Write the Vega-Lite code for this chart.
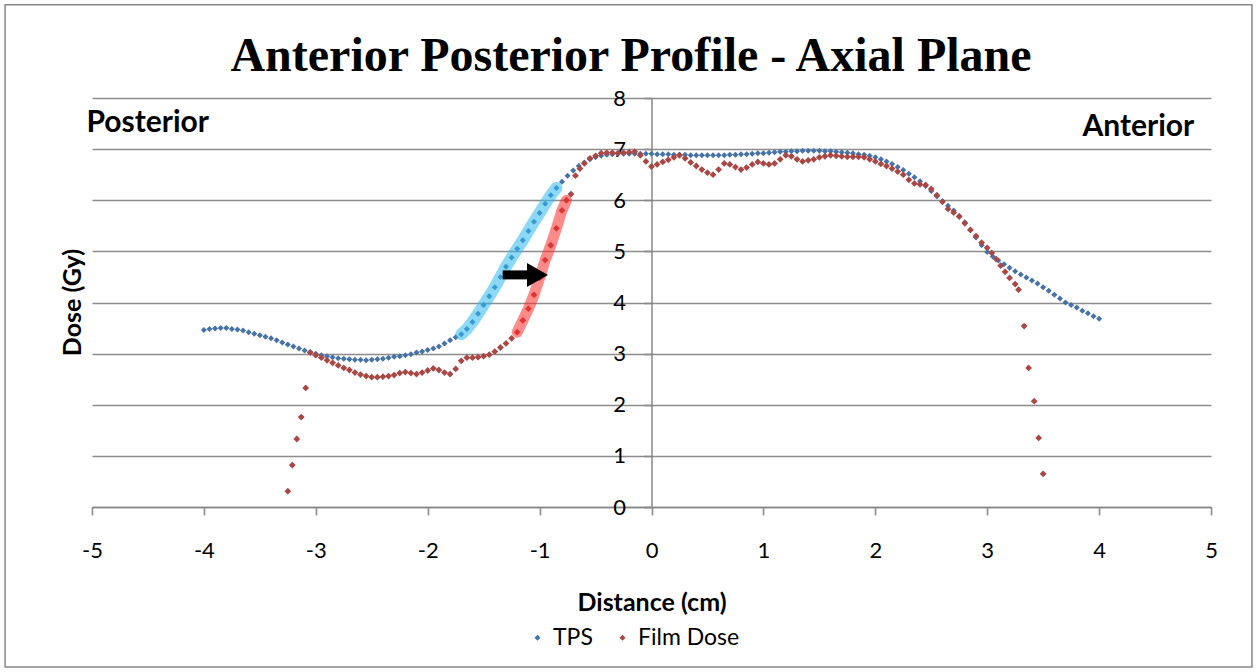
{
  "$schema": "https://vega.github.io/schema/vega-lite/v6.json",
  "width": 1119,
  "height": 409,
  "autosize": "none",
  "padding": {"left": 92, "top": 98, "right": 47, "bottom": 165},
  "background": "#ffffff",
  "config": {"view": {"stroke": null}, "font": "Lato"},
  "datasets": {
    "profile": [
      {"series":"TPS","distance":-4.0,"dose":3.46},{"series":"TPS","distance":-3.95,"dose":3.48},{"series":"TPS","distance":-3.9,"dose":3.49},{"series":"TPS","distance":-3.85,"dose":3.5},{"series":"TPS","distance":-3.8,"dose":3.5},{"series":"TPS","distance":-3.75,"dose":3.48},{"series":"TPS","distance":-3.7,"dose":3.47},{"series":"TPS","distance":-3.65,"dose":3.45},{"series":"TPS","distance":-3.6,"dose":3.42},{"series":"TPS","distance":-3.55,"dose":3.39},{"series":"TPS","distance":-3.5,"dose":3.36},{"series":"TPS","distance":-3.45,"dose":3.33},{"series":"TPS","distance":-3.4,"dose":3.3},{"series":"TPS","distance":-3.35,"dose":3.26},{"series":"TPS","distance":-3.3,"dose":3.22},{"series":"TPS","distance":-3.25,"dose":3.18},{"series":"TPS","distance":-3.2,"dose":3.14},{"series":"TPS","distance":-3.15,"dose":3.1},{"series":"TPS","distance":-3.1,"dose":3.06},{"series":"TPS","distance":-3.05,"dose":3.03},{"series":"TPS","distance":-3.0,"dose":3.0},{"series":"TPS","distance":-2.95,"dose":2.97},{"series":"TPS","distance":-2.9,"dose":2.95},{"series":"TPS","distance":-2.85,"dose":2.93},{"series":"TPS","distance":-2.8,"dose":2.91},{"series":"TPS","distance":-2.75,"dose":2.9},{"series":"TPS","distance":-2.7,"dose":2.89},{"series":"TPS","distance":-2.65,"dose":2.88},{"series":"TPS","distance":-2.6,"dose":2.88},{"series":"TPS","distance":-2.55,"dose":2.87},{"series":"TPS","distance":-2.5,"dose":2.88},{"series":"TPS","distance":-2.45,"dose":2.89},{"series":"TPS","distance":-2.4,"dose":2.9},{"series":"TPS","distance":-2.35,"dose":2.92},{"series":"TPS","distance":-2.3,"dose":2.94},{"series":"TPS","distance":-2.25,"dose":2.95},{"series":"TPS","distance":-2.2,"dose":2.97},{"series":"TPS","distance":-2.15,"dose":2.99},{"series":"TPS","distance":-2.1,"dose":3.02},{"series":"TPS","distance":-2.05,"dose":3.04},{"series":"TPS","distance":-2.0,"dose":3.07},{"series":"TPS","distance":-1.95,"dose":3.1},{"series":"TPS","distance":-1.9,"dose":3.14},{"series":"TPS","distance":-1.85,"dose":3.2},{"series":"TPS","distance":-1.8,"dose":3.26},{"series":"TPS","distance":-1.75,"dose":3.32},{"series":"TPS","distance":-1.7,"dose":3.38},{"series":"TPS","distance":-1.65,"dose":3.48},{"series":"TPS","distance":-1.6,"dose":3.62},{"series":"TPS","distance":-1.55,"dose":3.78},{"series":"TPS","distance":-1.5,"dose":3.95},{"series":"TPS","distance":-1.45,"dose":4.12},{"series":"TPS","distance":-1.4,"dose":4.3},{"series":"TPS","distance":-1.35,"dose":4.5},{"series":"TPS","distance":-1.3,"dose":4.7},{"series":"TPS","distance":-1.25,"dose":4.88},{"series":"TPS","distance":-1.2,"dose":5.05},{"series":"TPS","distance":-1.15,"dose":5.22},{"series":"TPS","distance":-1.1,"dose":5.4},{"series":"TPS","distance":-1.05,"dose":5.58},{"series":"TPS","distance":-1.0,"dose":5.75},{"series":"TPS","distance":-0.95,"dose":5.93},{"series":"TPS","distance":-0.9,"dose":6.1},{"series":"TPS","distance":-0.85,"dose":6.24},{"series":"TPS","distance":-0.8,"dose":6.36},{"series":"TPS","distance":-0.75,"dose":6.48},{"series":"TPS","distance":-0.7,"dose":6.58},{"series":"TPS","distance":-0.65,"dose":6.67},{"series":"TPS","distance":-0.6,"dose":6.74},{"series":"TPS","distance":-0.55,"dose":6.8},{"series":"TPS","distance":-0.5,"dose":6.84},{"series":"TPS","distance":-0.45,"dose":6.87},{"series":"TPS","distance":-0.4,"dose":6.89},{"series":"TPS","distance":-0.35,"dose":6.9},{"series":"TPS","distance":-0.3,"dose":6.91},{"series":"TPS","distance":-0.25,"dose":6.91},{"series":"TPS","distance":-0.2,"dose":6.91},{"series":"TPS","distance":-0.15,"dose":6.91},{"series":"TPS","distance":-0.1,"dose":6.91},{"series":"TPS","distance":-0.05,"dose":6.91},{"series":"TPS","distance":0.0,"dose":6.91},{"series":"TPS","distance":0.05,"dose":6.9},{"series":"TPS","distance":0.1,"dose":6.9},{"series":"TPS","distance":0.15,"dose":6.9},{"series":"TPS","distance":0.2,"dose":6.89},{"series":"TPS","distance":0.25,"dose":6.89},{"series":"TPS","distance":0.3,"dose":6.89},{"series":"TPS","distance":0.35,"dose":6.88},{"series":"TPS","distance":0.4,"dose":6.88},{"series":"TPS","distance":0.45,"dose":6.88},{"series":"TPS","distance":0.5,"dose":6.88},{"series":"TPS","distance":0.55,"dose":6.88},{"series":"TPS","distance":0.6,"dose":6.88},{"series":"TPS","distance":0.65,"dose":6.88},{"series":"TPS","distance":0.7,"dose":6.89},{"series":"TPS","distance":0.75,"dose":6.89},{"series":"TPS","distance":0.8,"dose":6.9},{"series":"TPS","distance":0.85,"dose":6.9},{"series":"TPS","distance":0.9,"dose":6.91},{"series":"TPS","distance":0.95,"dose":6.92},{"series":"TPS","distance":1.0,"dose":6.92},{"series":"TPS","distance":1.05,"dose":6.93},{"series":"TPS","distance":1.1,"dose":6.94},{"series":"TPS","distance":1.15,"dose":6.95},{"series":"TPS","distance":1.2,"dose":6.95},{"series":"TPS","distance":1.25,"dose":6.96},{"series":"TPS","distance":1.3,"dose":6.96},{"series":"TPS","distance":1.35,"dose":6.97},{"series":"TPS","distance":1.4,"dose":6.97},{"series":"TPS","distance":1.45,"dose":6.97},{"series":"TPS","distance":1.5,"dose":6.97},{"series":"TPS","distance":1.55,"dose":6.96},{"series":"TPS","distance":1.6,"dose":6.96},{"series":"TPS","distance":1.65,"dose":6.95},{"series":"TPS","distance":1.7,"dose":6.94},{"series":"TPS","distance":1.75,"dose":6.93},{"series":"TPS","distance":1.8,"dose":6.92},{"series":"TPS","distance":1.85,"dose":6.9},{"series":"TPS","distance":1.9,"dose":6.89},{"series":"TPS","distance":1.95,"dose":6.87},{"series":"TPS","distance":2.0,"dose":6.84},{"series":"TPS","distance":2.05,"dose":6.8},{"series":"TPS","distance":2.1,"dose":6.76},{"series":"TPS","distance":2.15,"dose":6.71},{"series":"TPS","distance":2.2,"dose":6.65},{"series":"TPS","distance":2.25,"dose":6.59},{"series":"TPS","distance":2.3,"dose":6.52},{"series":"TPS","distance":2.35,"dose":6.45},{"series":"TPS","distance":2.4,"dose":6.37},{"series":"TPS","distance":2.45,"dose":6.28},{"series":"TPS","distance":2.5,"dose":6.18},{"series":"TPS","distance":2.55,"dose":6.08},{"series":"TPS","distance":2.6,"dose":5.98},{"series":"TPS","distance":2.65,"dose":5.89},{"series":"TPS","distance":2.7,"dose":5.8},{"series":"TPS","distance":2.75,"dose":5.69},{"series":"TPS","distance":2.8,"dose":5.57},{"series":"TPS","distance":2.85,"dose":5.42},{"series":"TPS","distance":2.9,"dose":5.27},{"series":"TPS","distance":2.95,"dose":5.12},{"series":"TPS","distance":3.0,"dose":4.99},{"series":"TPS","distance":3.05,"dose":4.9},{"series":"TPS","distance":3.1,"dose":4.82},{"series":"TPS","distance":3.15,"dose":4.75},{"series":"TPS","distance":3.2,"dose":4.68},{"series":"TPS","distance":3.25,"dose":4.61},{"series":"TPS","distance":3.3,"dose":4.55},{"series":"TPS","distance":3.35,"dose":4.49},{"series":"TPS","distance":3.4,"dose":4.43},{"series":"TPS","distance":3.45,"dose":4.37},{"series":"TPS","distance":3.5,"dose":4.3},{"series":"TPS","distance":3.55,"dose":4.23},{"series":"TPS","distance":3.6,"dose":4.15},{"series":"TPS","distance":3.65,"dose":4.08},{"series":"TPS","distance":3.7,"dose":4.0},{"series":"TPS","distance":3.75,"dose":3.95},{"series":"TPS","distance":3.8,"dose":3.9},{"series":"TPS","distance":3.85,"dose":3.84},{"series":"TPS","distance":3.9,"dose":3.79},{"series":"TPS","distance":3.95,"dose":3.73},{"series":"TPS","distance":4.0,"dose":3.68},
      {"series":"Film Dose","distance":-3.25,"dose":0.31},{"series":"Film Dose","distance":-3.21,"dose":0.82},{"series":"Film Dose","distance":-3.17,"dose":1.33},{"series":"Film Dose","distance":-3.13,"dose":1.76},{"series":"Film Dose","distance":-3.09,"dose":2.33},{"series":"Film Dose","distance":-3.05,"dose":3.02},{"series":"Film Dose","distance":-3.0,"dose":2.97},{"series":"Film Dose","distance":-2.95,"dose":2.92},{"series":"Film Dose","distance":-2.9,"dose":2.87},{"series":"Film Dose","distance":-2.85,"dose":2.82},{"series":"Film Dose","distance":-2.8,"dose":2.77},{"series":"Film Dose","distance":-2.75,"dose":2.72},{"series":"Film Dose","distance":-2.7,"dose":2.68},{"series":"Film Dose","distance":-2.65,"dose":2.63},{"series":"Film Dose","distance":-2.6,"dose":2.59},{"series":"Film Dose","distance":-2.55,"dose":2.56},{"series":"Film Dose","distance":-2.5,"dose":2.54},{"series":"Film Dose","distance":-2.45,"dose":2.54},{"series":"Film Dose","distance":-2.4,"dose":2.55},{"series":"Film Dose","distance":-2.35,"dose":2.56},{"series":"Film Dose","distance":-2.3,"dose":2.58},{"series":"Film Dose","distance":-2.25,"dose":2.62},{"series":"Film Dose","distance":-2.2,"dose":2.64},{"series":"Film Dose","distance":-2.15,"dose":2.62},{"series":"Film Dose","distance":-2.1,"dose":2.6},{"series":"Film Dose","distance":-2.05,"dose":2.63},{"series":"Film Dose","distance":-2.0,"dose":2.67},{"series":"Film Dose","distance":-1.95,"dose":2.71},{"series":"Film Dose","distance":-1.9,"dose":2.68},{"series":"Film Dose","distance":-1.85,"dose":2.63},{"series":"Film Dose","distance":-1.8,"dose":2.6},{"series":"Film Dose","distance":-1.75,"dose":2.7},{"series":"Film Dose","distance":-1.7,"dose":2.86},{"series":"Film Dose","distance":-1.65,"dose":2.92},{"series":"Film Dose","distance":-1.6,"dose":2.92},{"series":"Film Dose","distance":-1.55,"dose":2.93},{"series":"Film Dose","distance":-1.5,"dose":2.95},{"series":"Film Dose","distance":-1.45,"dose":2.98},{"series":"Film Dose","distance":-1.4,"dose":3.04},{"series":"Film Dose","distance":-1.35,"dose":3.12},{"series":"Film Dose","distance":-1.3,"dose":3.2},{"series":"Film Dose","distance":-1.25,"dose":3.3},{"series":"Film Dose","distance":-1.2,"dose":3.42},{"series":"Film Dose","distance":-1.15,"dose":3.65},{"series":"Film Dose","distance":-1.1,"dose":3.88},{"series":"Film Dose","distance":-1.05,"dose":4.15},{"series":"Film Dose","distance":-1.0,"dose":4.48},{"series":"Film Dose","distance":-0.95,"dose":4.83},{"series":"Film Dose","distance":-0.9,"dose":5.12},{"series":"Film Dose","distance":-0.85,"dose":5.45},{"series":"Film Dose","distance":-0.8,"dose":5.8},{"series":"Film Dose","distance":-0.76,"dose":6.0},{"series":"Film Dose","distance":-0.72,"dose":6.12},{"series":"Film Dose","distance":-0.68,"dose":6.48},{"series":"Film Dose","distance":-0.64,"dose":6.62},{"series":"Film Dose","distance":-0.6,"dose":6.72},{"series":"Film Dose","distance":-0.55,"dose":6.82},{"series":"Film Dose","distance":-0.5,"dose":6.87},{"series":"Film Dose","distance":-0.45,"dose":6.92},{"series":"Film Dose","distance":-0.4,"dose":6.93},{"series":"Film Dose","distance":-0.35,"dose":6.93},{"series":"Film Dose","distance":-0.3,"dose":6.92},{"series":"Film Dose","distance":-0.25,"dose":6.93},{"series":"Film Dose","distance":-0.2,"dose":6.94},{"series":"Film Dose","distance":-0.15,"dose":6.95},{"series":"Film Dose","distance":-0.1,"dose":6.88},{"series":"Film Dose","distance":-0.05,"dose":6.76},{"series":"Film Dose","distance":0.0,"dose":6.66},{"series":"Film Dose","distance":0.05,"dose":6.7},{"series":"Film Dose","distance":0.1,"dose":6.75},{"series":"Film Dose","distance":0.15,"dose":6.79},{"series":"Film Dose","distance":0.2,"dose":6.84},{"series":"Film Dose","distance":0.25,"dose":6.88},{"series":"Film Dose","distance":0.3,"dose":6.82},{"series":"Film Dose","distance":0.35,"dose":6.74},{"series":"Film Dose","distance":0.4,"dose":6.67},{"series":"Film Dose","distance":0.45,"dose":6.6},{"series":"Film Dose","distance":0.5,"dose":6.54},{"series":"Film Dose","distance":0.55,"dose":6.5},{"series":"Film Dose","distance":0.6,"dose":6.6},{"series":"Film Dose","distance":0.65,"dose":6.72},{"series":"Film Dose","distance":0.7,"dose":6.7},{"series":"Film Dose","distance":0.75,"dose":6.65},{"series":"Film Dose","distance":0.8,"dose":6.6},{"series":"Film Dose","distance":0.85,"dose":6.64},{"series":"Film Dose","distance":0.9,"dose":6.7},{"series":"Film Dose","distance":0.95,"dose":6.75},{"series":"Film Dose","distance":1.0,"dose":6.72},{"series":"Film Dose","distance":1.05,"dose":6.7},{"series":"Film Dose","distance":1.1,"dose":6.72},{"series":"Film Dose","distance":1.15,"dose":6.8},{"series":"Film Dose","distance":1.2,"dose":6.88},{"series":"Film Dose","distance":1.25,"dose":6.86},{"series":"Film Dose","distance":1.3,"dose":6.8},{"series":"Film Dose","distance":1.35,"dose":6.76},{"series":"Film Dose","distance":1.4,"dose":6.78},{"series":"Film Dose","distance":1.45,"dose":6.8},{"series":"Film Dose","distance":1.5,"dose":6.84},{"series":"Film Dose","distance":1.55,"dose":6.86},{"series":"Film Dose","distance":1.6,"dose":6.88},{"series":"Film Dose","distance":1.65,"dose":6.87},{"series":"Film Dose","distance":1.7,"dose":6.86},{"series":"Film Dose","distance":1.75,"dose":6.85},{"series":"Film Dose","distance":1.8,"dose":6.85},{"series":"Film Dose","distance":1.85,"dose":6.85},{"series":"Film Dose","distance":1.9,"dose":6.84},{"series":"Film Dose","distance":1.95,"dose":6.8},{"series":"Film Dose","distance":2.0,"dose":6.76},{"series":"Film Dose","distance":2.05,"dose":6.71},{"series":"Film Dose","distance":2.1,"dose":6.67},{"series":"Film Dose","distance":2.15,"dose":6.62},{"series":"Film Dose","distance":2.2,"dose":6.56},{"series":"Film Dose","distance":2.25,"dose":6.5},{"series":"Film Dose","distance":2.3,"dose":6.4},{"series":"Film Dose","distance":2.35,"dose":6.33},{"series":"Film Dose","distance":2.4,"dose":6.31},{"series":"Film Dose","distance":2.45,"dose":6.3},{"series":"Film Dose","distance":2.5,"dose":6.22},{"series":"Film Dose","distance":2.55,"dose":6.1},{"series":"Film Dose","distance":2.6,"dose":5.97},{"series":"Film Dose","distance":2.65,"dose":5.83},{"series":"Film Dose","distance":2.7,"dose":5.76},{"series":"Film Dose","distance":2.75,"dose":5.68},{"series":"Film Dose","distance":2.8,"dose":5.55},{"series":"Film Dose","distance":2.85,"dose":5.42},{"series":"Film Dose","distance":2.9,"dose":5.3},{"series":"Film Dose","distance":2.95,"dose":5.17},{"series":"Film Dose","distance":3.0,"dose":5.07},{"series":"Film Dose","distance":3.04,"dose":4.97},{"series":"Film Dose","distance":3.08,"dose":4.85},{"series":"Film Dose","distance":3.12,"dose":4.72},{"series":"Film Dose","distance":3.16,"dose":4.6},{"series":"Film Dose","distance":3.2,"dose":4.48},{"series":"Film Dose","distance":3.25,"dose":4.36},{"series":"Film Dose","distance":3.28,"dose":4.25},{"series":"Film Dose","distance":3.33,"dose":3.54},{"series":"Film Dose","distance":3.37,"dose":2.72},{"series":"Film Dose","distance":3.42,"dose":2.07},{"series":"Film Dose","distance":3.46,"dose":1.35},{"series":"Film Dose","distance":3.5,"dose":0.65}
    ]
  },
  "layer": [
    {
      "data": {"values": [{}]},
      "mark": {"type": "rect", "filled": false, "stroke": "#868686", "strokeWidth": 1.5},
      "encoding": {
        "x": {"datum": -5.777, "type": "quantitative", "scale": {"domain": [-5, 5], "nice": false}},
        "x2": {"datum": 5.366},
        "y": {"datum": 9.824, "type": "quantitative", "scale": {"domain": [0, 8], "nice": false}},
        "y2": {"datum": -3.131}
      }
    },
    {
      "data": {"name": "profile"},
      "mark": {"type": "point", "shape": "diamond", "filled": true, "opacity": 1, "strokeWidth": 0},
      "encoding": {
        "x": {"field": "distance", "type": "quantitative", "scale": {"domain": [-5, 5], "nice": false},
          "axis": {"title": "Distance (cm)", "values": [-5,-4,-3,-2,-1,0,1,2,3,4,5], "labelExpr": "'' + datum.value", "grid": false, "domainColor": "#868686", "domainWidth": 1.5, "tickColor": "#868686", "tickSize": 8, "tickWidth": 1.5, "labelFont": "Lato", "labelFontSize": 22, "labelColor": "#000000", "labelBaseline": "middle", "labelPadding": 35, "labelFlush": false, "labelOverlap": false, "titleFont": "Lato", "titleFontSize": 25, "titleFontWeight": "bold", "titleColor": "#000000", "titleY": 95, "titleBaseline": "middle"}},
        "y": {"field": "dose", "type": "quantitative", "scale": {"domain": [0, 8], "nice": false},
          "axis": {"title": "Dose (Gy)", "values": [0,1,2,3,4,5,6,7,8], "labelExpr": "'' + datum.value", "offset": -559.5, "grid": true, "gridColor": "#8c8c8c", "gridWidth": 1.5, "domainColor": "#868686", "domainWidth": 1.5, "tickColor": "#868686", "tickSize": 8, "tickWidth": 1.5, "labelFont": "Lato", "labelFontSize": 22, "labelColor": "#000000", "labelPadding": 18, "labelFlush": false, "labelOverlap": false, "titleFont": "Lato", "titleFontSize": 25, "titleFontWeight": "bold", "titleColor": "#000000", "titleX": -579.5, "titleY": 204, "titleAngle": -90, "titleAlign": "center", "titleBaseline": "middle"}},
        "color": {"field": "series", "type": "nominal", "scale": {"domain": ["TPS", "Film Dose"], "range": ["#4572A7", "#AA4643"]},
          "legend": {"orient": "none", "legendX": 434, "legendY": 528, "direction": "horizontal", "title": null, "symbolType": "diamond", "symbolSize": 36, "symbolStrokeWidth": 0, "labelFont": "Lato", "labelFontSize": 23, "labelColor": "#000000", "columnPadding": 18, "labelOffset": 4, "padding": 0}},
        "size": {"condition": {"test": "datum.series === 'TPS'", "value": 36}, "value": 46}
      }
    },
    {
      "data": {"name": "profile"},
      "transform": [{"filter": "datum.series === 'TPS' && datum.distance >= -1.7 && datum.distance <= -0.85"}],
      "mark": {"type": "line", "stroke": "#2eb8f0", "strokeWidth": 12, "strokeCap": "round", "strokeJoin": "round", "opacity": 0.55},
      "encoding": {
        "x": {"field": "distance", "type": "quantitative", "scale": {"domain": [-5, 5], "nice": false}},
        "y": {"field": "dose", "type": "quantitative", "scale": {"domain": [0, 8], "nice": false}}
      }
    },
    {
      "data": {"name": "profile"},
      "transform": [{"filter": "datum.series === 'Film Dose' && datum.distance >= -1.22 && datum.distance <= -0.76"}],
      "mark": {"type": "line", "stroke": "#ff2a2a", "strokeWidth": 11, "strokeCap": "round", "strokeJoin": "round", "opacity": 0.55},
      "encoding": {
        "x": {"field": "distance", "type": "quantitative", "scale": {"domain": [-5, 5], "nice": false}},
        "y": {"field": "dose", "type": "quantitative", "scale": {"domain": [0, 8], "nice": false}}
      }
    },
    {
      "data": {"values": [{}]},
      "mark": {"type": "rule", "color": "#000000", "strokeWidth": 9, "strokeCap": "butt"},
      "encoding": {
        "x": {"datum": -1.33, "type": "quantitative", "scale": {"domain": [-5, 5], "nice": false}},
        "x2": {"datum": -1.06},
        "y": {"datum": 4.54, "type": "quantitative", "scale": {"domain": [0, 8], "nice": false}}
      }
    },
    {
      "data": {"values": [{}]},
      "mark": {"type": "point", "shape": "M-0.875,-1L0.875,0L-0.875,1Z", "filled": true, "color": "#000000", "opacity": 1, "size": 576, "strokeWidth": 0},
      "encoding": {
        "x": {"datum": -1.019, "type": "quantitative", "scale": {"domain": [-5, 5], "nice": false}},
        "y": {"datum": 4.54, "type": "quantitative", "scale": {"domain": [0, 8], "nice": false}}
      }
    },
    {
      "data": {"values": [{}]},
      "mark": {"type": "text", "text": "Anterior Posterior Profile - Axial Plane", "font": "Liberation Serif", "fontSize": 48, "fontWeight": "bold", "color": "#000000", "align": "center", "baseline": "alphabetic"},
      "encoding": {
        "x": {"datum": -0.183, "type": "quantitative", "scale": {"domain": [-5, 5], "nice": false}},
        "y": {"datum": 8.53, "type": "quantitative", "scale": {"domain": [0, 8], "nice": false}}
      }
    },
    {
      "data": {"values": [{}]},
      "mark": {"type": "text", "text": "Posterior", "font": "Lato", "fontSize": 30, "fontWeight": "bold", "color": "#000000", "align": "left", "baseline": "middle"},
      "encoding": {
        "x": {"datum": -5.05, "type": "quantitative", "scale": {"domain": [-5, 5], "nice": false}},
        "y": {"datum": 7.51, "type": "quantitative", "scale": {"domain": [0, 8], "nice": false}}
      }
    },
    {
      "data": {"values": [{}]},
      "mark": {"type": "text", "text": "Anterior", "font": "Lato", "fontSize": 30, "fontWeight": "bold", "color": "#000000", "align": "right", "baseline": "middle"},
      "encoding": {
        "x": {"datum": 4.85, "type": "quantitative", "scale": {"domain": [-5, 5], "nice": false}},
        "y": {"datum": 7.44, "type": "quantitative", "scale": {"domain": [0, 8], "nice": false}}
      }
    }
  ]
}
